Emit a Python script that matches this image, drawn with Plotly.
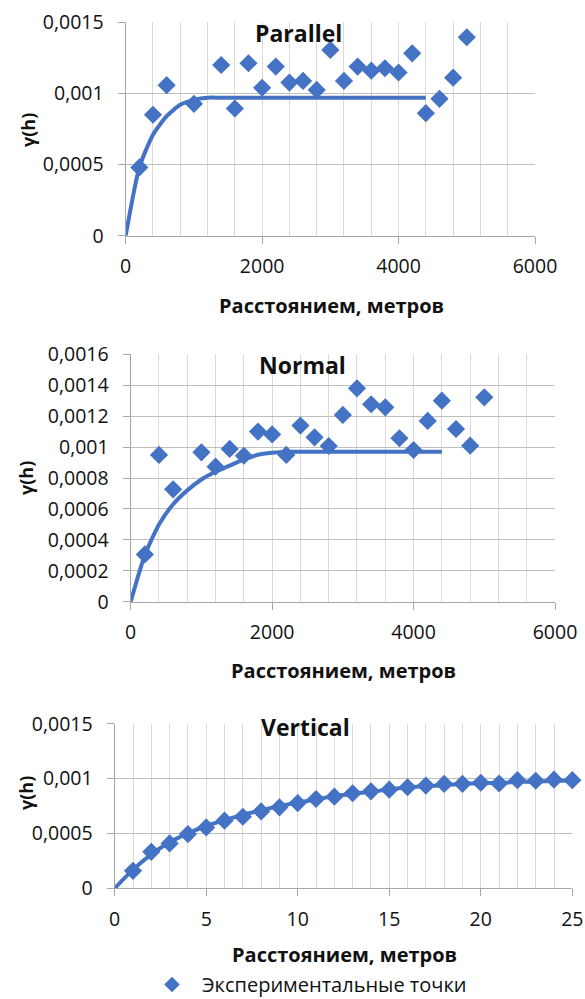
import plotly.graph_objects as go

# ---------------- data ----------------
par_x = [200, 400, 600, 1000, 1400, 1600, 1800, 2000, 2200, 2400, 2600, 2800,
         3000, 3200, 3400, 3600, 3800, 4000, 4200, 4400, 4600, 4800, 5000]
par_y = [0.00048, 0.00085, 0.001058, 0.000927, 0.0012, 0.000894, 0.001212, 0.00104,
         0.001189, 0.001076, 0.001088, 0.001025, 0.001306, 0.001088, 0.001189, 0.00116,
         0.001177, 0.001147, 0.001282, 0.000861, 0.000962, 0.001111, 0.001395]
par_model_x = [0, 200, 400, 600, 800, 1000, 1200, 1400, 1600, 1800, 2000, 2200,
               2400, 2600, 2800, 3000, 3200, 3400, 3600, 3800, 4000, 4200, 4400]
par_model_y = [0, 0.00048, 0.00071, 0.00084, 0.00092, 0.000955, 0.00097, 0.00097,
               0.00097, 0.00097, 0.00097, 0.00097, 0.00097, 0.00097, 0.00097, 0.00097,
               0.00097, 0.00097, 0.00097, 0.00097, 0.00097, 0.00097, 0.00097]

nor_x = [200, 400, 600, 1000, 1200, 1400, 1600, 1800, 2000, 2200, 2400, 2600,
         2800, 3000, 3200, 3400, 3600, 3800, 4000, 4200, 4400, 4600, 4800, 5000]
nor_y = [0.000306, 0.000949, 0.000727, 0.000966, 0.000873, 0.000988, 0.000944, 0.0011,
         0.001082, 0.000949, 0.001139, 0.001063, 0.001007, 0.001208, 0.00138, 0.001277,
         0.001257, 0.001057, 0.000981, 0.001169, 0.0013, 0.001117, 0.001009, 0.001322]
nor_model_x = [0, 200, 400, 600, 800, 1000, 1200, 1400, 1600, 1800, 2000, 2200,
               2400, 2600, 2800, 3000, 3200, 3400, 3600, 3800, 4000, 4200, 4400]
nor_model_y = [0, 0.000302, 0.0005, 0.00063, 0.00072, 0.00079, 0.00084, 0.00088,
               0.00092, 0.00095, 0.000963, 0.00097, 0.00097, 0.00097, 0.00097, 0.00097,
               0.00097, 0.00097, 0.00097, 0.00097, 0.00097, 0.00097, 0.00097]

ver_x = list(range(1, 26))
ver_y = [0.000159, 0.000332, 0.000409, 0.000494, 0.000555, 0.000616, 0.000652, 0.000701,
         0.000738, 0.000777, 0.000814, 0.000835, 0.000866, 0.000884, 0.000899, 0.000921,
         0.000936, 0.000951, 0.000952, 0.000962, 0.000955, 0.000985, 0.00098, 0.00099,
         0.000985]
ver_model_x = list(range(0, 26))
ver_model_y = [0, 0.00017, 0.00031, 0.00042, 0.0005, 0.00057, 0.00062, 0.00067, 0.00071,
               0.00075, 0.00078, 0.00081, 0.00084, 0.00086, 0.00088, 0.0009, 0.00092,
               0.00093, 0.00094, 0.00095, 0.00096, 0.00096, 0.00097, 0.00097, 0.00098,
               0.00098]

y_ticks_15 = [0, 0.0005, 0.001, 0.0015]
y_text_15 = ["0", "0,0005", "0,001", "0,0015"]
y_ticks_16 = [0, 0.0002, 0.0004, 0.0006, 0.0008, 0.001, 0.0012, 0.0014, 0.0016]
y_text_16 = ["0", "0,0002", "0,0004", "0,0006", "0,0008", "0,001", "0,0012", "0,0014", "0,0016"]

titles = ["Parallel", "Normal", "Vertical"]
x_title = "Расстоянием, метров"
y_title = "γ(h)"
legend_name = "Экспериментальные точки"

# ---------------- style ----------------
W, H = 585, 999
BLUE = "#4472C4"
FONT = "Open Sans"
TXT = "#111111"
GRID_MAJ = "#BFBFBF"
GRID_MIN = "#D9D9D9"
AXLINE = "#A6A6A6"


def px_x(v):
    return v / W


def px_y(v):
    return 1 - v / H


# plot areas in pixels: (left, right, top, bottom)
areas = [
    (125.7, 535.0, 22.3, 235.7),
    (130.7, 555.0, 354.3, 601.7),
    (114.7, 572.3, 723.7, 888.3),
]

fig = go.Figure()

series = [
    (par_x, par_y, par_model_x, par_model_y),
    (nor_x, nor_y, nor_model_x, nor_model_y),
    (ver_x, ver_y, ver_model_x, ver_model_y),
]

for i, (sx, sy, mx, my) in enumerate(series):
    suf = "" if i == 0 else str(i + 1)
    fig.add_trace(go.Scatter(
        x=sx, y=sy, mode="markers", name=legend_name,
        marker=dict(symbol="diamond", size=14, color=BLUE, line=dict(width=0)),
        xaxis="x" + suf, yaxis="y" + suf, cliponaxis=False,
        showlegend=(i == 0), legendgroup="pts",
    ))
    fig.add_trace(go.Scatter(
        x=mx, y=my, mode="lines", name="model",
        line=dict(color=BLUE, width=4, shape="spline", smoothing=0.6),
        xaxis="x" + suf, yaxis="y" + suf, cliponaxis=False, showlegend=False,
    ))

x_ranges = [[0, 6000], [0, 6000], [0, 25]]
x_dticks = [2000, 2000, 5]
x_minor = [400, 400, 1]
y_ranges = [[0, 0.0015], [0, 0.0016], [0, 0.0015]]
y_tv = [y_ticks_15, y_ticks_16, y_ticks_15]
y_tt = [y_text_15, y_text_16, y_text_15]

layout = dict(
    width=W, height=H, autosize=False,
    margin=dict(l=0, r=0, t=0, b=0, pad=0, autoexpand=False),
    paper_bgcolor="white", plot_bgcolor="white",
    font=dict(family=FONT, size=19, color=TXT),
    showlegend=True,
    legend=dict(
        x=px_x(142), y=-5 / H, xanchor="left", yanchor="bottom",
        font=dict(family=FONT, size=20, color=TXT),
        itemsizing="constant", itemwidth=50,
        bgcolor="rgba(0,0,0,0)", borderwidth=0,
    ),
)

annotations = []
for i, (l, r, t, b) in enumerate(areas):
    suf = "" if i == 0 else str(i + 1)
    layout["xaxis" + suf] = dict(
        domain=[px_x(l), px_x(r)], range=x_ranges[i], anchor="y" + suf,
        dtick=x_dticks[i], tick0=0, showgrid=True, gridcolor=GRID_MIN, gridwidth=1,
        minor=dict(dtick=x_minor[i], tick0=0, showgrid=True, gridcolor=GRID_MIN, gridwidth=1, ticks=""),
        showline=True, linecolor=AXLINE, linewidth=1.3, zeroline=False,
        ticks="outside", ticklen=7, tickcolor=AXLINE, tickwidth=1.3,
        tickfont=dict(family=FONT, size=19.5, color=TXT), ticklabelstandoff=6,
        fixedrange=True, automargin=False,
    )
    layout["yaxis" + suf] = dict(
        domain=[px_y(b), px_y(t)], range=y_ranges[i], anchor="x" + suf,
        tickmode="array", tickvals=y_tv[i], ticktext=y_tt[i],
        showgrid=True, gridcolor=GRID_MAJ, gridwidth=1.3,
        showline=True, linecolor=AXLINE, linewidth=1.3, zeroline=False,
        ticks="outside", ticklen=7, tickcolor=AXLINE, tickwidth=1.3,
        tickfont=dict(family=FONT, size=19.5, color=TXT), ticklabelstandoff=10,
        fixedrange=True, automargin=False,
    )

title_pos = [(298, 33), (302, 365), (305, 727)]
xt_pos = [(331, 305), (343, 670), (344, 954)]
yt_pos = [(28, 130), (26, 478), (26, 793)]

for i in range(3):
    tx, ty = title_pos[i]
    annotations.append(dict(
        text="<b>%s</b>" % titles[i], x=px_x(tx), y=px_y(ty), xref="paper", yref="paper",
        xanchor="center", yanchor="middle", showarrow=False,
        font=dict(family=FONT, size=23, color=TXT),
    ))
    xx, xy = xt_pos[i]
    annotations.append(dict(
        text="<b>%s</b>" % x_title, x=px_x(xx), y=px_y(xy), xref="paper", yref="paper",
        xanchor="center", yanchor="middle", showarrow=False,
        font=dict(family=FONT, size=20, color=TXT),
    ))
    yx, yy = yt_pos[i]
    annotations.append(dict(
        text="<b>%s</b>" % y_title, x=px_x(yx), y=px_y(yy), xref="paper", yref="paper",
        xanchor="center", yanchor="middle", showarrow=False, textangle=-90,
        font=dict(family=FONT, size=18, color=TXT),
    ))

layout["annotations"] = annotations
fig.update_layout(**layout)

fig.write_html(
    "out.html",
    config=dict(displayModeBar=False, responsive=False),
    post_script="document.body.style.margin='0';document.body.style.overflow='hidden';",
)
